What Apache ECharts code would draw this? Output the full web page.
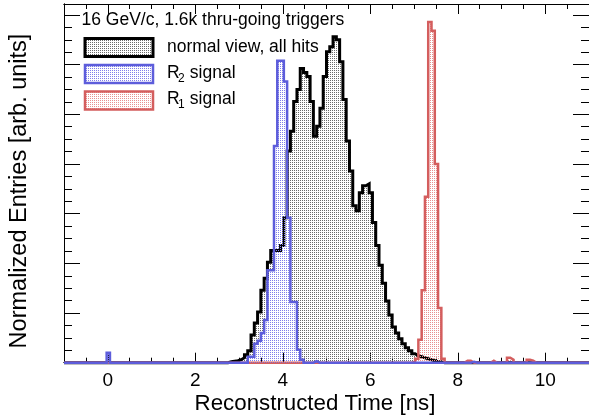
<!DOCTYPE html>
<html><head><meta charset="utf-8">
<script src="https://cdn.jsdelivr.net/npm/echarts@6/dist/echarts.min.js"></script>
<style>html,body{margin:0;padding:0;background:#fff}#c{width:589px;height:418px}</style>
</head><body><div id="c"></div>
<script>
// ---------- data ----------
const xMin = -1, xMax = 11, binWidth = 0.075;
const xMajorTicks = [0, 2, 4, 6, 8, 10];
const xMinorTicks = [-0.5, 0.5, 1, 1.5, 2.5, 3, 3.5, 4.5, 5, 5.5, 6.5, 7, 7.5, 8.5, 9, 9.5, 10.5];
const yMax = 361;
const yMajorTicks = [50, 100, 150, 200, 250, 300, 350];
const yMinorTicks = [12.5, 25, 37.5, 62.5, 75, 87.5, 112.5, 125, 137.5, 162.5, 175, 187.5,
  212.5, 225, 237.5, 262.5, 275, 287.5, 312.5, 325, 337.5];

// "normal view, all hits" (black)
const blackFirstBin = 50;
const blackValues = [1, 1.5, 2, 3, 5, 8, 12, 28, 40, 51, 73, 85, 101, 113, 113, 113, 118, 146, 213, 233,
  263, 275, 296, 292, 288, 263, 228, 238, 256, 288, 313, 318, 328, 325, 303, 265, 223, 193, 158, 153,
  171, 178, 180, 171, 141, 118, 98, 80, 62, 48, 36, 30, 24, 19, 15, 12, 9, 7, 6, 5, 4, 3, 2, 1, 1];

// "R2 signal" (blue)
const blueFirstBin = 56;
const blueValues = [6, 6, 19, 22, 30, 43, 93, 93, 218, 304, 304, 283, 146, 61, 61, 13, 3];
const blueExtraBins = [13, 76, 124];
const blueExtraValues = [10, 1.5, 1];

// "R1 signal" (red)
const redFirstBin = 106;
const redValues = [1, 4, 23, 73, 167, 343, 334, 200, 55, 4];
const redExtraBins = [122, 123, 130, 135, 136, 141, 142];
const redExtraValues = [2, 2, 2, 5, 3, 3, 2];

const legendLabels = ['normal view, all hits', 'R', '2', ' signal', 'R', '1', ' signal'];
const headerText = '16 GeV/c, 1.6k thru-going triggers';
const xTitle = 'Reconstructed Time [ns]';
const yTitle = 'Normalized Entries [arb. units]';

// ---------- build ----------
const nBins = Math.round((xMax - xMin) / binWidth);
function buildHist(firstBin, values, extraBins, extraValues) {
  const v = new Array(nBins).fill(0);
  values.forEach((val, i) => { v[firstBin + i] = val; });
  (extraBins || []).forEach((b, i) => { v[b] = extraValues[i]; });
  const pts = [];
  for (let i = 0; i < nBins; i++) pts.push([xMin + i * binWidth, v[i]]);
  pts.push([xMax, 0]);
  return pts;
}
function pattern(color) {
  const c = document.createElement('canvas');
  c.width = 2; c.height = 2;
  const ctx = c.getContext('2d');
  ctx.fillStyle = color; ctx.fillRect(0, 0, 1, 1);
  return { image: c, repeat: 'repeat' };
}
const FONT = '"Liberation Sans", Arial, Helvetica, sans-serif';
const BLUE = '#5d5ddb', RED = '#d45e5e';
const patBlack = pattern('#6a6a6a'), patBlue = pattern('#8080ea'), patRed = pattern('#e89090');

function xAx(pos, ticks, len, labels) {
  return {
    type: 'value', min: xMin, max: xMax, position: pos,
    axisLine: { show: true, onZero: false, lineStyle: { color: '#000', width: 1 } },
    axisTick: { show: true, inside: true, length: len, customValues: ticks, lineStyle: { color: '#000', width: 1 } },
    axisLabel: { show: labels, customValues: ticks, fontFamily: FONT, fontSize: 19, color: '#000', margin: 9 },
    splitLine: { show: false }
  };
}
function yAx(pos, ticks, len) {
  return {
    type: 'value', min: 0, max: yMax, position: pos,
    axisLine: { show: true, onZero: false, lineStyle: { color: '#000', width: 1 } },
    axisTick: { show: true, inside: true, length: len, customValues: ticks, lineStyle: { color: '#000', width: 1 } },
    axisLabel: { show: false, customValues: ticks },
    splitLine: { show: false }
  };
}
function histSeries(name, data, color, width, pat, z) {
  return {
    name, type: 'line', step: 'end', data, xAxisIndex: 0, yAxisIndex: 0,
    showSymbol: false, symbol: 'none', animation: false, clip: false, z,
    lineStyle: { color, width, join: 'miter' },
    areaStyle: { color: pat, opacity: 1 }
  };
}

const chart = echarts.init(document.getElementById('c'), null, { renderer: 'canvas' });
const lgX = 85, lgW = 68, lgH = 18;
const T = (x, y, text, size, extra) => Object.assign({ type: 'text', x, y,
  style: Object.assign({ text, font: size + 'px ' + FONT, fill: '#000', verticalAlign: 'middle' }, extra || {}) });
chart.setOption({
  animation: false,
  backgroundColor: '#fff',
  grid: { left: 64, top: 4, width: 531, height: 358.7, containLabel: false },
  xAxis: [xAx('bottom', xMajorTicks, 10, true), xAx('bottom', xMinorTicks, 5, false),
          xAx('top', xMajorTicks, 10, false), xAx('top', xMinorTicks, 5, false)],
  yAxis: [yAx('left', yMajorTicks, 16), yAx('left', yMinorTicks, 8),
          yAx('right', yMajorTicks, 16), yAx('right', yMinorTicks, 8)],
  series: [
    histSeries('normal view, all hits', buildHist(blackFirstBin, blackValues), '#000', 3, patBlack, 2),
    histSeries('R1 signal', buildHist(redFirstBin, redValues, redExtraBins, redExtraValues), RED, 2.5, patRed, 3),
    histSeries('R2 signal', buildHist(blueFirstBin, blueValues, blueExtraBins, blueExtraValues), BLUE, 2.5, patBlue, 4)
  ],
  graphic: [
    T(81.5, 20, headerText, 17.5),
    { type: 'rect', shape: { x: lgX, y: 38.5, width: lgW, height: lgH }, style: { fill: patBlack, stroke: '#000', lineWidth: 3 } },
    { type: 'rect', shape: { x: lgX, y: 65, width: lgW, height: lgH }, style: { fill: patBlue, stroke: BLUE, lineWidth: 2.5 } },
    { type: 'rect', shape: { x: lgX, y: 91.5, width: lgW, height: lgH }, style: { fill: patRed, stroke: RED, lineWidth: 2.5 } },
    T(167, 47, legendLabels[0], 17.5),
    T(167, 73, legendLabels[1], 17.5),
    T(178, 79, legendLabels[2], 12),
    T(185, 73, legendLabels[3], 17.5),
    T(167, 99, legendLabels[4], 17.5),
    T(178, 105, legendLabels[5], 12),
    T(185, 99, legendLabels[6], 17.5),
    T(315, 404, xTitle, 22.3, { align: 'center' }),
    Object.assign(T(20, 191, yTitle, 23.5, { align: 'center' }), { rotation: Math.PI / 2 })
  ]
});
</script></body></html>
